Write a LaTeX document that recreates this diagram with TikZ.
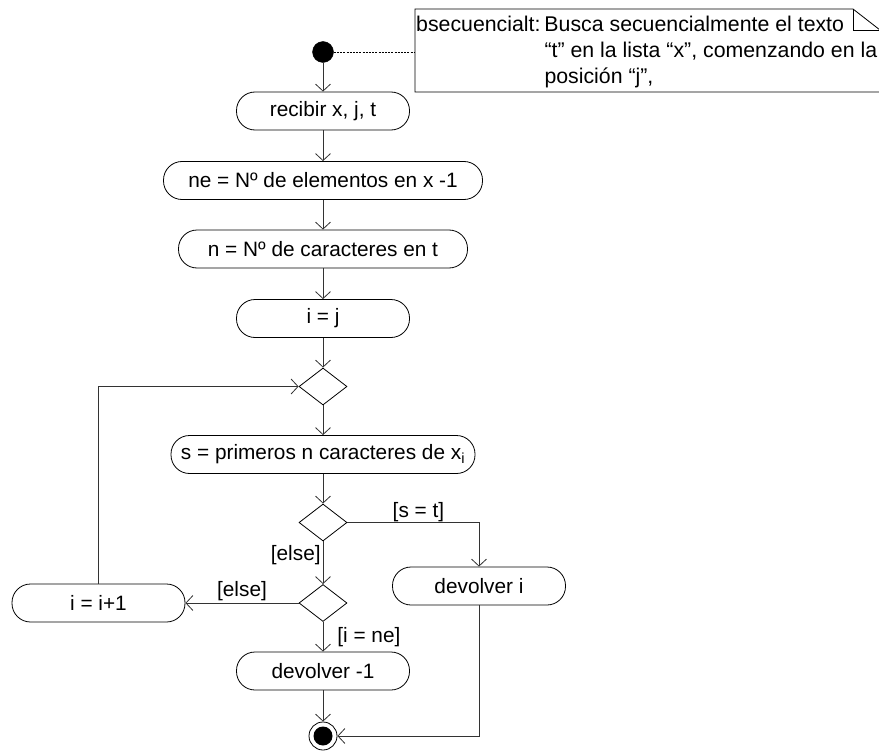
\documentclass[tikz,border=0pt]{standalone}
\usepackage{fontspec}
\setmainfont{Liberation Sans}
\usetikzlibrary{arrows.meta,shapes.geometric}
\begin{document}
\begin{tikzpicture}[x=1pt,y=-1pt,
  txt/.style={font=\fontsize{20.8}{25}\selectfont},
  act/.style={draw=black, line width=0.8pt, rounded corners=18.5pt, fill=white,
    minimum height=38pt, minimum width=173pt, inner sep=0pt, txt},
  choice/.style={draw=black, line width=0.8pt, diamond, fill=white,
    minimum width=48pt, minimum height=37pt, inner sep=0pt},
  flow/.style={draw=black!80, line width=0.8pt,
    -{Straight Barb[length=7pt,width=15pt,line width=0.8pt]}},
  guard/.style={txt, inner sep=0pt}
]
\useasboundingbox (0,0) rectangle (879,752);

% comment note with folded corner
\draw[line width=0.8pt] (415,9) -- (853,9) -- (880,30) -- (880,92) -- (415,92) -- cycle;
\draw[line width=0.8pt] (853,9) -- (853,30) -- (880,30);
\node[anchor=north west, inner sep=0pt, font=\fontsize{21.3}{26}\selectfont] (notetext) at (416,13)
  {\begin{tabular}{@{}l@{\hspace{4pt}}l@{}}
   bsecuencialt: & Busca secuencialmente el texto\\
   & “t” en la lista “x”, comenzando en la\\
   & posición “j”,
   \end{tabular}};
\coordinate (noteL) at (415,52);

% initial and final states
\node[circle, fill=black, draw=black, minimum size=21pt, inner sep=0pt] (start) at (323,52) {};
\node[circle, draw=black, line width=0.8pt, fill=white, minimum size=28pt, inner sep=0pt] (endc) at (323,736) {};
\fill[black] (endc.center) circle (9.5pt);

% actions
\node[act] (recibir) at (323,111) {recibir x, j, t};
\node[act, minimum width=319pt] (ne) at (323,180.5) {ne = Nº de elementos en x -1};
\node[act, minimum width=289pt] (n) at (323,249) {n = Nº de caracteres en t};
\node[act] (ij) at (323,318.5) {i = j};
\node[choice] (d1) at (323,386.5) {};
\node[act, minimum width=304pt] (s) at (323,454.5) {s = primeros n caracteres de x\textsubscript{i}};
\node[choice] (d2) at (323,522.5) {};
\node[choice] (d3) at (323,603) {};
\node[act] (inc) at (98.5,603) {i = i+1};
\node[act] (devi) at (479,586) {devolver i};
\node[act] (dev1) at (323,671) {devolver -1};

% control flow
\draw[dash pattern=on 2pt off 1.2pt, line width=0.7pt] (start) -- (noteL);
\draw[flow] (start) -- (recibir);
\draw[flow] (recibir) -- (ne);
\draw[flow] (ne) -- (n);
\draw[flow] (n) -- (ij);
\draw[flow] (ij) -- (d1);
\draw[flow] (d1) -- (s);
\draw[flow] (s) -- (d2);
\draw[flow] (d2.east) -| node[guard, pos=0.27, above] {[s = t]} (devi.north);
\draw[flow] (d2.south) -- node[guard, pos=0.32, left, inner xsep=2pt] {[else]} (d3.north);
\draw[flow] (d3.west) -- node[guard, pos=0.5, above, inner ysep=2pt] {[else]} (inc.east);
\draw[flow] (d3.south) -- node[guard, pos=0.5, right, xshift=14pt] {[i = ne]} (dev1.north);
\draw[flow] (dev1) -- (endc);
\draw[flow] (devi.south) |- (endc.east);
\draw[flow] (inc.north) |- (d1.west);
\end{tikzpicture}
\end{document}
